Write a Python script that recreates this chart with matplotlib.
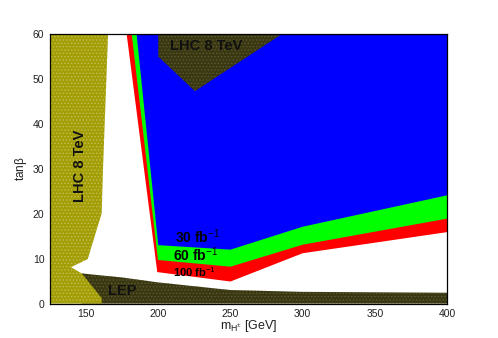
import matplotlib
matplotlib.use('Agg')
import matplotlib.pyplot as plt
from matplotlib.patches import Polygon

plt.rcParams['font.family'] = ['Liberation Sans', 'DejaVu Sans']
plt.rcParams['mathtext.fontset'] = 'custom'
plt.rcParams['mathtext.rm'] = 'Liberation Sans'
plt.rcParams['mathtext.it'] = 'Liberation Sans:italic'
plt.rcParams['mathtext.bf'] = 'Liberation Sans:bold'
plt.rcParams['hatch.linewidth'] = 0.6

# ---- excluded / reach regions (m_H+ [GeV], tan beta) ----
lhc_left_x = [125, 165.2, 161.7, 160.8, 151.1, 139.5, 147.0, 160.8, 160.8, 125]
lhc_left_y = [60, 60, 30, 20.1, 9.9, 8.1, 6.7, 1.2, 0, 0]

lep_x = [147.0, 175, 200, 250, 300, 400, 400, 147.0]
lep_y = [6.7, 5.8, 4.7, 3.0, 2.6, 2.4, 0, 0]

# reach contours, each closed at the top/right of the frame
red_x = [178.1, 199.3, 250, 300, 400, 400]
red_y = [60, 7.0, 4.9, 11.2, 15.9, 60]
green_x = [181.6, 199.8, 250, 300, 400, 400]
green_y = [60, 9.7, 8.2, 13.1, 18.9, 60]
blue_x = [185.0, 200, 250, 300, 400, 400]
blue_y = [60, 13.0, 12.0, 17.1, 24.1, 60]

lhc_top_x = [200, 200, 225.4, 285.5]
lhc_top_y = [60, 55.0, 47.3, 60]

fig = plt.figure(figsize=(4.98, 3.38), dpi=100)
ax = fig.add_axes([0.1004, 0.102, 0.7972, 0.797])


def region(xs, ys, fc, ec=None, hatch=None, z=1):
    p = Polygon(list(zip(xs, ys)), closed=True, facecolor=fc,
                edgecolor=ec if ec else fc, hatch=hatch, linewidth=0, zorder=z)
    ax.add_patch(p)


region(red_x, red_y, '#ff0000', z=2)
region(green_x, green_y, '#00ff00', z=3)
region(blue_x, blue_y, '#0000ff', z=4)
region(lhc_top_x, lhc_top_y, '#3a3810', ec='#5c5a38', hatch='.....', z=5)
region(lep_x, lep_y, '#3a3810', ec='#5c5a38', hatch='.....', z=5)
region(lhc_left_x, lhc_left_y, '#a39e05', ec='#c2bd50', hatch='.....', z=6)

ax.text(145.8, 30.7, 'LHC 8 TeV', rotation=90, ha='center', va='center',
        fontsize=10.5, fontweight='bold', color='#111111', zorder=10)
ax.text(233.5, 57.3, 'LHC 8 TeV', ha='center', va='center',
        fontsize=10.5, fontweight='bold', color='#111111', zorder=10)
ax.text(211.4, 14.9, r'30 fb$^{-1}$', ha='left', va='center',
        fontsize=10, fontweight='bold', zorder=10)
ax.text(210.4, 10.8, r'60 fb$^{-1}$', ha='left', va='center',
        fontsize=10, fontweight='bold', zorder=10)
ax.text(210.4, 7.0, r'100 fb$^{-1}$', ha='left', va='center',
        fontsize=8, fontweight='bold', zorder=10)
ax.text(165.4, 2.8, 'LEP', ha='left', va='center',
        fontsize=10.5, fontweight='bold', color='#111111', zorder=10)

ax.set_xlim(125, 400)
ax.set_ylim(0, 60)
ax.set_xticks([150, 200, 250, 300, 350, 400])
ax.set_yticks([0, 10, 20, 30, 40, 50, 60])
ax.tick_params(length=0, labelsize=7.5, pad=4, labelcolor='#222222')
ax.set_xlabel(r'm$_{\mathregular{H^{\pm}}}$ [GeV]', fontsize=9, labelpad=-1,
              color='#222222')
ax.set_ylabel(r'tan$\mathregular{\beta}$', fontsize=8.5, labelpad=3,
              color='#222222')
for s in ax.spines.values():
    s.set_linewidth(0.9)
    s.set_zorder(20)

fig.savefig('out.png', dpi=100)
